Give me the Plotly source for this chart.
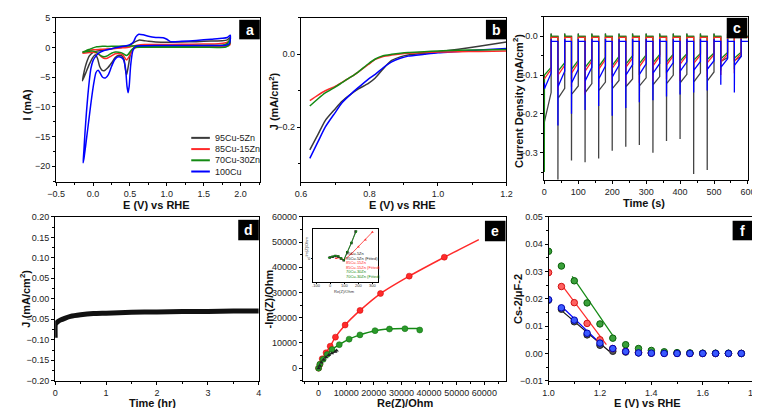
import plotly.graph_objects as go

W, H = 760, 408
FONT = "Liberation Sans, Arial, sans-serif"
TFONT = "Liberation Sans, Arial, sans-serif"

BLACK_C = "#3a3a3a"
RED_C = "#ff2a2a"
GREEN_C = "#138a13"
BLUE_C = "#0000ff"

# ---------------- panel a : cyclic voltammetry ----------------
cv_labels = ["95Cu-5Zn", "85Cu-15Zn", "70Cu-30Zn", "100Cu"]
cv95_E = [-0.144, -0.12, -0.09, -0.05, 0.0, 0.05, 0.1, 0.2, 0.3, 0.4, 0.5, 0.56, 0.62, 0.68, 0.75, 0.85,
          1.0, 1.2, 1.4, 1.6, 1.75, 1.82, 1.86, 1.85, 1.8, 1.6, 1.4, 1.2, 1.0, 0.8, 0.65, 0.56, 0.51,
          0.48, 0.455, 0.44, 0.42, 0.39, 0.35, 0.3, 0.25, 0.2, 0.15, 0.12, 0.09, 0.06, 0.03, 0.0,
          -0.05, -0.1, -0.144]
cv95_I = [-5.6, -4.0, -2.6, -1.4, -0.8, -0.6, -0.5, -0.3, -0.1, 0.05, 0.4, 0.9, 1.25, 1.2, 1.05, 0.95,
          0.9, 0.95, 1.0, 1.1, 1.15, 1.3, 1.7, 0.6, 0.35, 0.33, 0.32, 0.3, 0.3, 0.28, 0.2, 0.0, -1.0,
          -3.0, -4.6, -3.8, -2.0, -1.4, -1.3, -1.7, -2.6, -3.4, -3.9, -3.8, -3.2, -1.8, -1.2, -1.6,
          -2.8, -4.3, -5.6]
cv85_E = [-0.144, -0.1, -0.05, 0.0, 0.1, 0.2, 0.3, 0.4, 0.5, 0.6, 0.7, 0.9, 1.2, 1.5, 1.7, 1.8, 1.86,
          1.85, 1.8, 1.4, 1.0, 0.7, 0.58, 0.53, 0.49, 0.455, 0.43, 0.4, 0.35, 0.3, 0.25, 0.2, 0.16,
          0.12, 0.08, 0.04, 0.0, -0.05, -0.1, -0.144]
cv85_I = [-0.9, -0.6, -0.45, -0.35, -0.3, -0.25, -0.15, -0.05, 0.1, 0.4, 0.5, 0.5, 0.55, 0.6, 0.65,
          0.8, 1.1, 0.4, 0.25, 0.22, 0.2, 0.15, 0.0, -0.5, -1.5, -2.1, -1.7, -1.2, -1.0, -1.05, -1.4,
          -1.75, -1.85, -1.6, -1.2, -0.9, -0.8, -0.85, -0.9, -0.95]
cv70_E = [-0.144, -0.1, -0.05, 0.0, 0.05, 0.1, 0.2, 0.3, 0.4, 0.5, 0.7, 1.0, 1.3, 1.6, 1.75, 1.82, 1.86,
          1.85, 1.8, 1.5, 1.0, 0.7, 0.56, 0.52, 0.48, 0.45, 0.42, 0.38, 0.3, 0.25, 0.2, 0.15, 0.11,
          0.07, 0.03, 0.0, -0.05, -0.1, -0.144]
cv70_I = [-0.75, -0.55, -0.3, -0.05, 0.15, 0.2, 0.2, 0.22, 0.25, 0.28, 0.3, 0.3, 0.32, 0.35, 0.4, 0.7,
          1.5, 0.6, 0.1, 0.05, 0.05, 0.05, 0.0, -0.4, -1.1, -1.35, -1.1, -0.85, -0.75, -0.95, -1.35,
          -1.55, -1.4, -1.0, -0.7, -0.6, -0.6, -0.7, -0.78]
cv100_E = [-0.135, -0.125, -0.11, -0.09, -0.07, -0.05, -0.03, 0.0, 0.04, 0.08, 0.15, 0.25, 0.35, 0.45,
           0.5, 0.55, 0.58, 0.62, 0.68, 0.75, 0.85, 0.95, 1.0, 1.05, 1.2, 1.4, 1.6, 1.75, 1.82, 1.86,
           1.85, 1.8, 1.5, 1.0, 0.7, 0.58, 0.54, 0.51, 0.49, 0.475, 0.46, 0.44, 0.41, 0.37, 0.33,
           0.29, 0.25, 0.21, 0.17, 0.13, 0.1, 0.07, 0.04, 0.01, -0.03, -0.07, -0.1, -0.125, -0.135]
cv100_I = [-19.4, -17.5, -14.5, -11.0, -8.0, -5.5, -3.6, -2.2, -1.4, -0.9, -0.5, -0.2, 0.1, 0.3, 0.5,
           1.0, 1.8, 2.25, 2.15, 1.9, 1.7, 1.65, 1.4, 1.0, 1.05, 1.2, 1.4, 1.55, 1.7, 2.1, 0.7, 0.4,
           0.35, 0.33, 0.32, 0.2, -0.5, -3.0, -6.5, -7.6, -6.5, -3.5, -2.0, -1.6, -1.6, -2.1, -3.2,
           -4.5, -5.1, -5.0, -4.4, -3.8, -4.2, -6.0, -9.5, -13.5, -16.5, -18.8, -19.4]

# ---------------- panel b : LSV ----------------
lsv_E = [0.626, 0.65, 0.671, 0.7, 0.72, 0.745, 0.768, 0.797, 0.817, 0.84, 0.865, 0.89, 0.913, 0.96,
         1.0, 1.06, 1.12, 1.2]
lsv_95 = [-0.2625, -0.22, -0.182, -0.15, -0.129, -0.11, -0.095, -0.08, -0.065, -0.04, -0.017, -0.007,
          -0.002, 0.003, 0.007, 0.014, 0.022, 0.034]
lsv_100 = [-0.286, -0.24, -0.2, -0.16, -0.133, -0.11, -0.091, -0.068, -0.055, -0.037, -0.021, -0.011,
           -0.005, 0.0, 0.004, 0.008, 0.012, 0.016]
lsv_85 = [-0.127, -0.112, -0.1, -0.088, -0.077, -0.063, -0.048, -0.028, -0.014, -0.006, -0.002, 0.001,
          0.003, 0.005, 0.006, 0.007, 0.008, 0.009]
lsv_70 = [-0.142, -0.122, -0.106, -0.09, -0.078, -0.063, -0.048, -0.026, -0.013, -0.004, 0.0, 0.003,
          0.005, 0.007, 0.009, 0.011, 0.012, 0.013]

# ---------------- panel c : chopped-light chronoamperometry ----------------
light_on_t = [0, 40, 80, 120, 160, 200, 240, 280, 320, 360, 400, 440, 480, 520, 560]
ca95_dark, ca95_over = 0.0, 0.008
ca95_spike = [-0.20, -0.37, -0.32, -0.325, -0.315, -0.295, -0.285, -0.28, -0.30, -0.27, -0.265, -0.355,
              -0.345, -0.07, -0.065]
ca95_start = [-0.22, -0.16, -0.15, -0.145, -0.14, -0.135, -0.13, -0.128, -0.125, -0.122, -0.12, -0.118,
              -0.115, -0.065, -0.062]
ca95_end = [-0.145, -0.134, -0.128, -0.122, -0.118, -0.114, -0.11, -0.107, -0.104, -0.1, -0.098, -0.095,
            -0.092, -0.055, -0.052]
ca85_dark, ca85_over = -0.003, 0.0
ca85_spike = [-0.11, -0.14, -0.13, -0.15, -0.13, -0.12, -0.125, -0.12, -0.115, -0.11, -0.115, -0.11,
              -0.105, -0.1, -0.095]
ca85_start = [-0.11, -0.1, -0.095, -0.09, -0.085, -0.082, -0.08, -0.078, -0.076, -0.074, -0.072, -0.07,
              -0.068, -0.066, -0.064]
ca85_end = [-0.085, -0.075, -0.068, -0.064, -0.06, -0.058, -0.056, -0.054, -0.052, -0.05, -0.049, -0.048,
            -0.047, -0.046, -0.045]
ca70_dark, ca70_over = 0.0, 0.006
ca70_spike = [-0.35, -0.12, -0.11, -0.11, -0.1, -0.1, -0.1, -0.1, -0.1, -0.095, -0.095, -0.095, -0.09,
              -0.088, -0.085]
ca70_start = [-0.1, -0.09, -0.085, -0.08, -0.078, -0.075, -0.072, -0.07, -0.068, -0.066, -0.064, -0.062,
              -0.06, -0.058, -0.056]
ca70_end = [-0.08, -0.068, -0.062, -0.058, -0.054, -0.052, -0.05, -0.048, -0.047, -0.046, -0.045, -0.044,
            -0.043, -0.042, -0.041]
ca100_dark, ca100_over = -0.013, 0.006
ca100_spike = [-0.12, -0.23, -0.2, -0.19, -0.18, -0.205, -0.185, -0.17, -0.165, -0.155, -0.15, -0.145,
               -0.14, -0.125, -0.145]
ca100_start = [-0.135, -0.13, -0.12, -0.115, -0.11, -0.105, -0.1, -0.098, -0.095, -0.093, -0.09, -0.088,
               -0.085, -0.08, -0.075]
ca100_end = [-0.095, -0.09, -0.085, -0.08, -0.077, -0.075, -0.073, -0.071, -0.07, -0.068, -0.066, -0.065,
             -0.063, -0.058, -0.052]

# ---------------- panel d : stability ----------------
stab_t = [0.0, 0.0, 0.01, 0.05, 0.1, 0.2, 0.3, 0.5, 0.75, 1.0, 1.5, 2.0, 2.5, 3.0, 3.5, 4.0]
stab_J = [-0.095, -0.065, -0.06, -0.056, -0.052, -0.047, -0.043, -0.039, -0.036, -0.035, -0.033, -0.032,
          -0.031, -0.031, -0.030, -0.030]

# ---------------- panel e : Nyquist ----------------
eis95_re = [0, 400, 1000, 1800, 2700, 3700, 4800, 6000, 6500]
eis95_im = [0, 1000, 2200, 3300, 4300, 5200, 5900, 6500, 7000]
eis85_re = [0, 500, 1300, 2700, 4200, 6100, 9600, 15000, 22400, 32800, 45500]
eis85_im = [0, 1500, 3700, 6100, 8700, 12300, 17100, 22900, 29600, 36500, 44000]
eis85_fit_re = [0, 500, 1300, 2700, 4200, 6100, 9600, 15000, 22400, 32800, 45500, 58000]
eis85_fit_im = [0, 1500, 3700, 6100, 8700, 12300, 17100, 22900, 29600, 36500, 44000, 51000]
eis70_re = [0, 460, 1660, 3090, 4870, 7480, 11040, 14960, 20420, 25650, 31240, 36600]
eis70_im = [0, 1550, 3490, 5430, 7370, 9310, 11510, 13190, 14870, 15520, 15640, 15130]
eis70_fit_re = [0, 460, 1660, 3090, 4870, 7480, 11040, 14960, 20420, 25650, 31240, 36300]
eis70_fit_im = [0, 1550, 3490, 5430, 7370, 9310, 11510, 13190, 14870, 15520, 15700, 15750]
# inset (zoom of high-frequency region)
ins70_re = [-10, 10, 30, 55, 75, 95, 120, 150, 185]
ins70_im = [5, 10, 14, 12, 3, -5, 30, 70, 118]
ins95_re = [-5, 15, 35, 55, 75, 95, 120, 150, 180]
ins95_im = [6, 9, 12, 10, 2, -6, 28, 68, 118]
ins85_re = [40, 60, 80, 95, 150, 200, 250, 300]
ins85_im = [2, 6, 1, -6, 22, 52, 82, 115]
inset_ticks = [-100, 0, 100, 200, 300]
inset_legend = ["95Cu-5Zn", "95Cu-5Zn (Fitted)", "85Cu-15Zn", "85Cu-15Zn (Fitted)",
                "70Cu-30Zn", "70Cu-30Zn (Fitted)"]

# ---------------- panel f : Mott-Schottky ----------------
ms_E = [1.0, 1.05, 1.1, 1.15, 1.2, 1.25, 1.3, 1.35, 1.4, 1.45, 1.5, 1.55, 1.6, 1.65, 1.7, 1.75]
ms_95 = [0.0195, 0.0162, 0.0116, 0.0068, 0.003, 0.0008, 0.0005, 0.0002, 0.0001, 0.0001, 0.0, 0.0, 0.0,
         0.0, 0.0, 0.0]
ms_85 = [0.0296, 0.0245, 0.0186, 0.011, 0.005, 0.0018, 0.0008, 0.0004, 0.0002, 0.0001, 0.0001, 0.0,
         0.0, 0.0, 0.0, 0.0]
ms_70 = [0.0374, 0.032, 0.0266, 0.0185, 0.0108, 0.0056, 0.0032, 0.0018, 0.0011, 0.0006, 0.0003, 0.0002,
         0.0001, 0.0001, 0.0001, 0.0]
ms_100 = [0.0197, 0.0167, 0.0122, 0.0074, 0.0038, 0.0018, 0.0007, 0.0002, 0.0001, 0.0, 0.0, 0.0, 0.0,
          0.0, 0.0, 0.0]
fit95_E, fit95 = [1.053, 1.236], [0.0155, 0.0008]
fit85_E, fit85 = [1.053, 1.225], [0.0248, 0.0032]
fit70_E, fit70 = [1.092, 1.257], [0.0282, 0.0056]
fit100_E, fit100 = [1.053, 1.213], [0.0170, 0.0026]

panel_letters = ["a", "b", "c", "d", "e", "f"]
x_titles = ["E (V) vs RHE", "E (V) vs RHE", "Time (s)", "Time (hr)", "Re(Z)/Ohm", "E (V) vs RHE"]
y_titles = ["I (mA)", "J (mA/cm<sup>2</sup>)", "Current Density (mA/cm<sup>2</sup>)",
            "J (mA/cm<sup>2</sup>)", "-Im(Z)/Ohm", "Cs-2/μF-2"]

# ---------------- layout geometry (pixels) ----------------
boxes = {1: (40, 248, 5, 173), 2: (290, 500, 5, 173), 3: (538, 747, 4, 171),
         4: (39, 247, 209, 377), 5: (292, 500, 209, 377), 6: (543, 753, 209, 377),
         7: (302, 369, 221, 276)}
letter_boxes = [(227, 7, 248, 27), (479, 7, 500, 27), (725, 5, 746, 26),
                (226, 212, 247, 233), (478, 213, 499, 234), (731, 213, 752, 233)]
xtitle_pos = [(142, 197), (394, 197), (640, 195), (138, 400), (396, 400), (644, 400)]
ytitle_pos = [(10, 94), (262, 90), (512, 90), (8, 293), (257, 293), (512, 293)]


def xd(x0, x1):
    return [x0 / W, x1 / W]


def yd(y0, y1):
    return [1 - y1 / H, 1 - y0 / H]


fig = go.Figure()


def add_line(x, y, ax, color, width=1.5, shape="spline"):
    fig.add_trace(go.Scatter(x=x, y=y, mode="lines", xaxis="x" + ax, yaxis="y" + ax,
                             line=dict(color=color, width=width, shape=shape, smoothing=0.6),
                             showlegend=False, hoverinfo="skip"))


# panel a
for E, I, c in [(cv95_E, cv95_I, BLACK_C), (cv85_E, cv85_I, RED_C), (cv70_E, cv70_I, GREEN_C),
                (cv100_E, cv100_I, BLUE_C)]:
    add_line(E, I, "", c, 1.5)

# panel b
for J, c in [(lsv_95, BLACK_C), (lsv_100, BLUE_C), (lsv_85, RED_C), (lsv_70, GREEN_C)]:
    add_line(lsv_E, J, "2", c, 1.5)


# panel c
def chrono_xy(dark, over, spike, start, end):
    xs, ys = [], []
    for k, t0 in enumerate(light_on_t):
        if k == 0:
            xs += [t0, t0 + 0.3]
            ys += [spike[k], start[k]]
        else:
            xs += [t0, t0, t0 + 0.3]
            ys += [dark, spike[k], start[k]]
        xs += [t0 + 20, t0 + 20, t0 + 20.6, t0 + 40]
        ys += [end[k], dark + over, dark, dark]
    return xs, ys


for args, c in [((ca95_dark, ca95_over, ca95_spike, ca95_start, ca95_end), "#444444"),
                ((ca70_dark, ca70_over, ca70_spike, ca70_start, ca70_end), GREEN_C),
                ((ca85_dark, ca85_over, ca85_spike, ca85_start, ca85_end), RED_C),
                ((ca100_dark, ca100_over, ca100_spike, ca100_start, ca100_end), BLUE_C)]:
    xs, ys = chrono_xy(*args)
    add_line(xs, ys, "3", c, 1.3, shape="linear")

# panel d
add_line(stab_t, stab_J, "4", "#111111", 5, shape="spline")

# panel e
add_line(eis85_fit_re, eis85_fit_im, "5", RED_C, 1.5)
add_line(eis70_fit_re, eis70_fit_im, "5", GREEN_C, 1.5)
add_line(eis95_re, eis95_im, "5", "#222222", 1.2)
fig.add_trace(go.Scatter(x=eis85_re, y=eis85_im, mode="markers", xaxis="x5", yaxis="y5",
                         marker=dict(color=RED_C, size=6, line=dict(color="#cc0000", width=0.5)),
                         showlegend=False, hoverinfo="skip"))
fig.add_trace(go.Scatter(x=eis70_re, y=eis70_im, mode="markers", xaxis="x5", yaxis="y5",
                         marker=dict(color="#2a9a2a", size=6, line=dict(color="#0a6a0a", width=0.5)),
                         showlegend=False, hoverinfo="skip"))
fig.add_trace(go.Scatter(x=eis95_re, y=eis95_im, mode="markers", xaxis="x5", yaxis="y5",
                         marker=dict(color="#222222", size=4, symbol="triangle-up"),
                         showlegend=False, hoverinfo="skip"))
# inset
for xr, yi, c, sym in [(ins85_re, ins85_im, RED_C, "triangle-up"),
                       (ins95_re, ins95_im, "#222222", "square"),
                       (ins70_re, ins70_im, GREEN_C, "triangle-down")]:
    fig.add_trace(go.Scatter(x=xr, y=yi, mode="lines+markers", xaxis="x7", yaxis="y7",
                             line=dict(color=c, width=0.8), marker=dict(color=c, size=2.5, symbol=sym),
                             showlegend=False, hoverinfo="skip"))

# panel f
for fx, fy, c in [(fit95_E, fit95, "#111111"), (fit85_E, fit85, RED_C), (fit70_E, fit70, GREEN_C),
                  (fit100_E, fit100, BLUE_C)]:
    add_line(fx, fy, "6", c, 1.2, shape="linear")
for y, c, lc in [(ms_95, "#555555", "#222222"), (ms_85, "#ff6060", "#d01010"),
                 (ms_70, "#3aa03a", "#0a600a"), (ms_100, "#3a5aff", "#0000b0")]:
    fig.add_trace(go.Scatter(x=ms_E, y=y, mode="markers", xaxis="x6", yaxis="y6",
                             marker=dict(color=c, size=6.5, line=dict(color=lc, width=1)),
                             showlegend=False, hoverinfo="skip"))

# ---------------- axes ----------------
tickfont = dict(family=FONT, size=9, color="#222222")
titlefont = dict(family=TFONT, size=11, color="#111111", weight="bold")


def axis(box_key, which, rng, dtick=None, tickvals=None, fmt=None, minor=None, anchor=None, tf=None,
         ticklen=3, labels=True):
    x0, x1, y0, y1 = boxes[box_key]
    d = dict(range=rng, showline=True, linecolor="black", linewidth=1, mirror=True,
             ticks="outside", ticklen=ticklen, tickwidth=1, tickcolor="black", showgrid=False,
             zeroline=False, tickfont=tf or tickfont, anchor=anchor, tickangle=0,
             showticklabels=labels)
    d["domain"] = xd(x0, x1) if which == "x" else yd(y0, y1)
    if dtick is not None:
        d["dtick"] = dtick
        d["tick0"] = 0
    if tickvals is not None:
        d["tickvals"] = tickvals
    if fmt:
        d["tickformat"] = fmt
    if minor:
        d["minor"] = dict(dtick=minor, tick0=0, ticks="outside", ticklen=2, tickcolor="black")
    return d


lay = {}
lay["xaxis"] = axis(1, "x", [-0.5, 2.26], dtick=0.5, fmt=".1f", minor=0.25, anchor="y")
lay["yaxis"] = axis(1, "y", [-22.6, 5], dtick=5, minor=2.5, anchor="x")
lay["xaxis2"] = axis(2, "x", [0.6, 1.2], dtick=0.2, fmt=".1f", minor=0.1, anchor="y2")
lay["yaxis2"] = axis(2, "y", [-0.35, 0.1], tickvals=[-0.2, 0.0], fmt=".1f", minor=0.1, anchor="x2")
lay["xaxis3"] = axis(3, "x", [-2, 601], dtick=100, minor=50, anchor="y3")
lay["yaxis3"] = axis(3, "y", [-0.37, 0.05], tickvals=[-0.3, -0.2, -0.1, 0.0], fmt=".1f", minor=0.05,
                     anchor="x3")
lay["xaxis4"] = axis(4, "x", [0, 4], dtick=1, minor=0.5, anchor="y4")
lay["yaxis4"] = axis(4, "y", [-0.2, 0.2], dtick=0.05, fmt=".2f", minor=0.025, anchor="x4")
lay["xaxis5"] = axis(5, "x", [-5700, 68000], dtick=10000, fmt="d", minor=5000, anchor="y5")
lay["yaxis5"] = axis(5, "y", [-5000, 60000], dtick=10000, fmt="d", minor=5000, anchor="x5")
lay["xaxis6"] = axis(6, "x", [1.0, 1.8], dtick=0.2, fmt=".1f", minor=0.1, anchor="y6")
lay["yaxis6"] = axis(6, "y", [-0.01, 0.05], dtick=0.01, fmt=".2f", minor=0.005, anchor="x6")
lay["xaxis7"] = axis(7, "x", [-128, 342], tickvals=inset_ticks, anchor="y7", ticklen=1, labels=False)
lay["yaxis7"] = axis(7, "y", [-100, 130], tickvals=[0], anchor="x7", ticklen=1, labels=False)

shapes, annotations = [], []
# axis titles
for t, (x, y) in zip(x_titles, xtitle_pos):
    annotations.append(dict(text=t, xref="paper", yref="paper", x=x / W, y=1 - y / H, showarrow=False,
                            xanchor="center", yanchor="middle", font=titlefont))
for t, (x, y) in zip(y_titles, ytitle_pos):
    annotations.append(dict(text=t, xref="paper", yref="paper", x=x / W, y=1 - y / H, showarrow=False,
                            xanchor="center", yanchor="middle", textangle=-90, font=titlefont))
# inset tick labels (placed on the inset's own axes)
ins_font = dict(family=TFONT, size=4, color="#333333")
for v in inset_ticks:
    annotations.append(dict(text=str(v), xref="x7", yref="paper", x=v, y=1 - 279 / H, showarrow=False,
                            xanchor="center", yanchor="middle", font=ins_font))
annotations.append(dict(text="0", xref="paper", yref="y7", x=299 / W, y=0, showarrow=False,
                        xanchor="center", yanchor="middle", font=ins_font))
# inset axis titles
annotations.append(dict(text="Re(Z)/Ohm", xref="paper", yref="paper", x=335 / W, y=1 - 285 / H,
                        showarrow=False, xanchor="center", yanchor="middle", font=ins_font))
annotations.append(dict(text="-Im(Z)/Ohm", xref="paper", yref="paper", x=295 / W, y=1 - 240 / H,
                        showarrow=False, xanchor="center", yanchor="middle", textangle=-90,
                        font=ins_font))
# panel letter boxes
for (x0, y0, x1, y1), L in zip(letter_boxes, panel_letters):
    shapes.append(dict(type="rect", xref="paper", yref="paper", x0=x0 / W, x1=x1 / W,
                       y0=1 - y1 / H, y1=1 - y0 / H, fillcolor="black", line=dict(width=0)))
    annotations.append(dict(text=L, xref="paper", yref="paper", x=(x0 + x1) / 2 / W,
                            y=1 - (y0 + y1) / 2 / H, showarrow=False, xanchor="center",
                            yanchor="middle", font=dict(family=TFONT, size=14, color="white",
                                                        weight="bold")))
# panel a legend
leg_rows = [128, 139.5, 151, 162.5]
for lab, c, ry in zip(cv_labels, [BLACK_C, RED_C, GREEN_C, BLUE_C], leg_rows):
    shapes.append(dict(type="line", xref="paper", yref="paper", x0=178 / W, x1=197 / W,
                       y0=1 - ry / H, y1=1 - ry / H, line=dict(color=c, width=2)))
    annotations.append(dict(text=lab, xref="paper", yref="paper", x=200 / W, y=1 - ry / H,
                            showarrow=False, xanchor="left", yanchor="middle",
                            font=dict(family=TFONT, size=9, color="#222222")))
# inset legend
ins_colors = ["#222222", "#222222", RED_C, RED_C, GREEN_C, GREEN_C]
for i, (lab, c) in enumerate(zip(inset_legend, ins_colors)):
    ry = 247 + i * 4.6
    annotations.append(dict(text=lab, xref="paper", yref="paper", x=334 / W, y=1 - ry / H,
                            showarrow=False, xanchor="left", yanchor="middle",
                            font=dict(family=TFONT, size=4, color=c)))

lay.update(dict(width=W, height=H, margin=dict(l=0, r=0, t=0, b=0), paper_bgcolor="white",
                plot_bgcolor="white", showlegend=False, shapes=shapes, annotations=annotations))
fig.update_layout(**lay)
fig.write_html("out.html")
